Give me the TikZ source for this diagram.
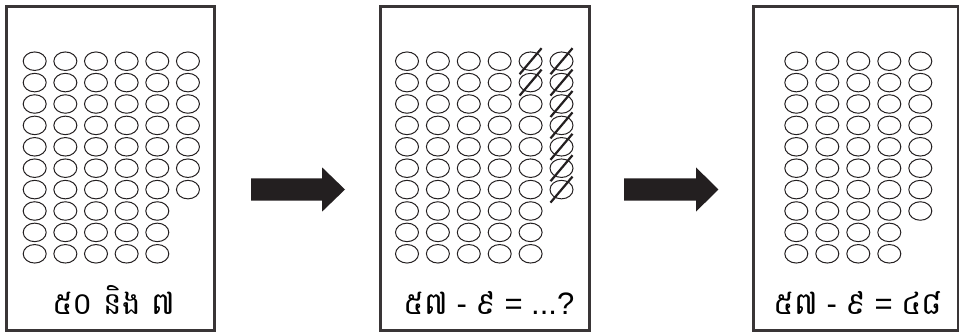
\documentclass[tikz,border=0pt]{standalone}
\usepackage{fontspec}
\setmainfont{Liberation Sans}
\newfontfamily\khmerfont[Script=Khmer]{Battambang}
\usetikzlibrary{shapes.geometric,calc}
\definecolor{ink}{HTML}{231F20}
\begin{document}
\begin{tikzpicture}[x=1pt,y=-1pt,
  panel/.style={draw=ink!90, line width=2.5pt, minimum height=324pt, inner sep=0pt},
  dot/.style={ellipse, draw=ink, line width=1pt, minimum width=23pt, minimum height=18.5pt, inner sep=0pt},
  slash/.style={draw=ink, line width=2.2pt},
  arrowfill/.style={fill=ink},
  lbl/.style={anchor=base, inner sep=0pt, font=\fontsize{31}{31}\selectfont}
]
\useasboundingbox (0,0) rectangle (960,336);
% panels
\node[panel, minimum width=207.8pt] (p1) at (110.4,168.5) {};
\node[panel, minimum width=209pt] (p2) at (485.2,168.5) {};
\node[panel, minimum width=204.7pt] (p3) at (855.7,168.5) {};
% panel 1 dots
\foreach \c in {1,...,6} \foreach \r in {1,...,7}
  \node[dot] (a-\r-\c) at ({34.7+(\c-1)*30.65},{61.2+(\r-1)*21.4}) {};
\foreach \c in {1,...,5} \foreach \r in {8,9,10}
  \node[dot] (a-\r-\c) at ({34.7+(\c-1)*30.65},{61.2+(\r-1)*21.4}) {};
% panel 2 dots
\foreach \c in {1,...,6} \foreach \r in {1,...,7}
  \node[dot] (b-\r-\c) at ({407+(\c-1)*30.9},{61.2+(\r-1)*21.4}) {};
\foreach \c in {1,...,5} \foreach \r in {8,9,10}
  \node[dot] (b-\r-\c) at ({407+(\c-1)*30.9},{61.2+(\r-1)*21.4}) {};
\foreach \r/\c in {1/5,2/5,1/6,2/6,3/6,4/6,5/6,6/6,7/6}
  \draw[slash] ($(b-\r-\c.center)+(-11,13)$) -- ($(b-\r-\c.center)+(11,-13)$);
% panel 3 dots
\foreach \c in {1,...,5} \foreach \r in {1,...,8}
  \node[dot] (d-\r-\c) at ({796.3+(\c-1)*31},{61.2+(\r-1)*21.4}) {};
\foreach \c in {1,...,4} \foreach \r in {9,10}
  \node[dot] (d-\r-\c) at ({796.3+(\c-1)*31},{61.2+(\r-1)*21.4}) {};
% arrows
\coordinate (a1s) at (251,189.5);
\coordinate (a1t) at (345,189.5);
\coordinate (a2s) at (624,189.5);
\coordinate (a2t) at (718.3,189.5);
\fill[arrowfill] (a1s) ++(0,-11.2) -- ++(71,0) -- ++(0,-11) -- (a1t) -- ++(-23,22.2) -- ++(0,-11) -- ++(-71,0) -- cycle;
\fill[arrowfill] (a2s) ++(0,-11.2) -- ++(72,0) -- ++(0,-11) -- (a2t) -- ++(-22.3,22.2) -- ++(0,-11) -- ++(-72,0) -- cycle;
% labels
\node[lbl] (t1) at (113.7,315) {{\khmerfont ៥០ និង ៧}};
\node[lbl] (t2) at (489,315) {{\khmerfont ៥៧} - {\khmerfont ៩} = ...?};
\node[lbl] (t3) at (858,315) {{\khmerfont ៥៧} - {\khmerfont ៩} = {\khmerfont ៤៨}};
\end{tikzpicture}
\end{document}
